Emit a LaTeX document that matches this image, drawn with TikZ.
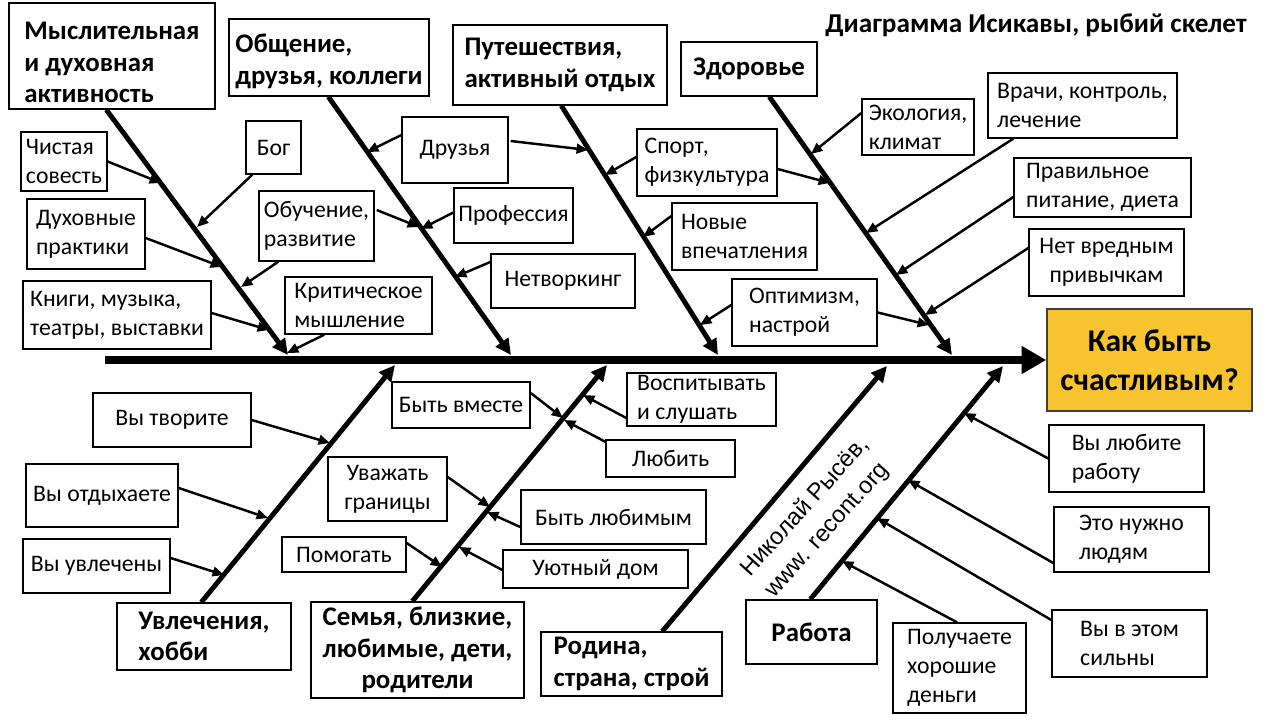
\documentclass[tikz,border=0pt]{standalone}
\usepackage{fontspec}
\setmainfont{Carlito}
\newfontfamily\wmfont{Liberation Sans}
\usetikzlibrary{arrows.meta,calc}
\definecolor{gold}{RGB}{247,196,48}
\newcommand\pbox[7]{\node[#6,minimum width={(#4-#2)*0.02cm},minimum height={(#5-#3)*0.02cm}] (#1) at ({(#2+#4)/2},{(#3+#5)/2}) {#7};}
\newcommand\lowertext[2]{\raisebox{#1}[\height][\depth]{\begin{tabular}{@{}l@{}}#2\end{tabular}}}
\begin{document}
\begin{tikzpicture}[x=0.02cm,y=-0.02cm,
  box/.style={draw,line width=0.8pt,inner sep=1pt,align=left,font=\fontsize{13.5}{16.5}\selectfont},
  head/.style={box,font=\fontsize{15.3}{18}\selectfont\bfseries},
  subarrow/.style={line width=1.4pt,-{Triangle[length=6.5pt,width=5.5pt]}},
  spine/.style={line width=2.8pt,-{Triangle[length=9pt,width=8.5pt]}},
  mainline/.style={line width=5pt,-{Triangle[length=14pt,width=15pt]}}]
\useasboundingbox (0,0) rectangle (1280,720);

% title
\node[font=\fontsize{15.5}{18}\selectfont\bfseries] (title) at (1036,25) {Диаграмма Исикавы, рыбий скелет};

% heads
\pbox{h1}{9}{3}{215}{109}{head}{\lowertext{-5pt}{Мыслительная\\и духовная\\активность}}
\pbox{h2}{229}{19}{429}{96}{head}{\lowertext{-2.5pt}{Общение,\\друзья, коллеги}}
\pbox{h3}{453}{25}{667}{105}{head}{Путешествия,\\активный отдых}
\pbox{h4}{681}{42}{817}{96}{head}{Здоровье}
\pbox{h5}{117}{603}{291}{670}{head}{Увлечения,\\хобби}
\pbox{h6}{311}{602}{524}{698}{head,align=center}{Семья, близкие,\\любимые, дети,\\родители}
\pbox{h7}{541}{632}{722}{696}{head}{Родина,\\страна, строй}
\pbox{h8}{746}{600}{877}{664}{head}{Работа}
\pbox{eff}{1047}{309}{1252}{411}{box,fill=gold,draw=black!75,align=center,font=\fontsize{18}{22}\selectfont\bfseries}{Как быть\\счастливым?}

% top sub boxes
\pbox{a1}{21}{132}{107}{191}{box}{Чистая\\совесть}
\pbox{a2}{246}{121}{301}{174}{box}{Бог}
\pbox{a3}{27}{199}{145}{269}{box}{Духовные\\практики}
\pbox{a4}{259}{191}{374}{261}{box}{Обучение,\\развитие}
\pbox{a5}{23}{281}{211}{349}{box}{Книги, музыка,\\театры, выставки}
\pbox{a6}{285}{277}{432}{334}{box}{Критическое\\мышление}
\pbox{a7}{402}{117}{508}{183}{box}{Друзья}
\pbox{a8}{454}{188}{573}{243}{box}{Профессия}
\pbox{a9}{491}{254}{635}{308}{box}{Нетворкинг}
\pbox{a10}{637}{129}{777}{196}{box}{Спорт,\\физкультура}
\pbox{a11}{672}{203}{817}{270}{box}{Новые\\впечатления}
\pbox{a12}{732}{279}{877}{346}{box}{Оптимизм,\\настрой}
\pbox{a13}{862}{99}{974}{155}{box}{Экология,\\климат}
\pbox{a14}{988}{73}{1177}{138}{box}{Врачи, контроль,\\лечение}
\pbox{a15}{1014}{158}{1191}{217}{box}{Правильное\\питание, диета}
\pbox{a16}{1029}{229}{1184}{296}{box,align=center}{Нет вредным\\привычкам}

% bottom sub boxes
\pbox{b1}{93}{393}{251}{447}{box}{Вы творите}
\pbox{b2}{26}{464}{178}{527}{box}{Вы отдыхаете}
\pbox{b3}{23}{539}{170}{593}{box}{Вы увлечены}
\pbox{b4}{392}{382}{530}{428}{box}{Быть вместе}
\pbox{b5}{627}{373}{776}{426}{box}{Воспитывать\\и слушать}
\pbox{b6}{606}{440}{735}{477}{box}{Любить}
\pbox{b7}{328}{457}{447}{521}{box,align=center}{Уважать\\границы}
\pbox{b8}{521}{490}{706}{544}{box}{Быть любимым}
\pbox{b9}{282}{537}{406}{572}{box}{Помогать}
\pbox{b10}{503}{550}{688}{588}{box}{Уютный дом}
\pbox{b11}{1049}{425}{1204}{492}{box}{Вы любите\\работу}
\pbox{b12}{1054}{507}{1209}{572}{box}{Это нужно\\людям}
\pbox{b13}{1052}{610}{1207}{677}{box}{Вы в этом\\сильны}
\pbox{b14}{893}{623}{1026}{713}{box}{Получаете\\хорошие\\деньги}

% watermark
\node[rotate=48,align=left,font=\wmfont\fontsize{13.5}{18}\selectfont] (wm) at (817,518) {Николай Рысёв,\\www. recont.org};

% coordinates on main line
\coordinate (mstart) at (105,360);
\coordinate (t1) at (288,355);
\coordinate (t2) at (511,355);
\coordinate (t3) at (718,355);
\coordinate (t4) at (952,355);
\coordinate (u5) at (395,365);
\coordinate (u6) at (607,365);
\coordinate (u7) at (887,366);
\coordinate (u8) at (1003,366);

% coordinates on spines
\coordinate (c1) at (161,183);
\coordinate (c2) at (197,227);
\coordinate (c3) at (222,267);
\coordinate (c4) at (241,287);
\coordinate (c4b) at (419,227);
\coordinate (c5) at (269,330);
\coordinate (c6) at (287,353);
\coordinate (c7) at (367,152);
\coordinate (c7b) at (588,150);
\coordinate (c8) at (421,229);
\coordinate (c9) at (455,277);
\coordinate (c10) at (605,175);
\coordinate (c10b) at (830,183);
\coordinate (c11) at (643,237);
\coordinate (c12) at (700,325);
\coordinate (c12b) at (929,325);
\coordinate (c13) at (811,154);
\coordinate (c14) at (866,233);
\coordinate (c15) at (896,275);
\coordinate (c16) at (925,315);
\coordinate (d1) at (330,443);
\coordinate (d2) at (268,518);
\coordinate (d3) at (224,575);
\coordinate (d4) at (563,418);
\coordinate (d5) at (583,395);
\coordinate (d6) at (564,420);
\coordinate (d7) at (490,507);
\coordinate (d8) at (487,512);
\coordinate (d9) at (442,567);
\coordinate (d10) at (459,547);
\coordinate (d11) at (964,413);
\coordinate (d12) at (908,480);
\coordinate (d13) at (877,518);
\coordinate (d14) at (842,561);

% main line
\draw[mainline] (mstart) -- (eff.west);

% spines
\draw[spine] ($(h1.south west)+(98,0)$) -- (t1);
\draw[spine] ($(h2.south west)+(100,0)$) -- (t2);
\draw[spine] ($(h3.south west)+(109,0)$) -- (t3);
\draw[spine] ($(h4.south west)+(89,0)$) -- (t4);
\draw[spine] ($(h5.north west)+(85,0)$) -- (u5);
\draw[spine] ($(h6.north west)+(102,0)$) -- (u6);
\draw[spine] ($(h7.north west)+(122,0)$) -- (u7);
\draw[spine] ($(h8.north west)+(65,0)$) -- (u8);

% sub arrows top
\draw[subarrow] (a1.east) -- (c1);
\draw[subarrow] ($(a2.south west)+(7,0)$) -- (c2);
\draw[subarrow] ($(a3.east)+(0,4)$) -- (c3);
\draw[subarrow] ($(a4.south west)+(20,0)$) -- (c4);
\draw[subarrow] ($(a4.east)+(2,-16)$) -- (c4b);
\draw[subarrow] ($(a5.east)+(0,-2)$) -- (c5);
\draw[subarrow] ($(a6.south west)+(40,0)$) -- (c6);
\draw[subarrow] ($(a7.west)+(0,-15)$) -- (c7);
\draw[subarrow] ($(a7.east)+(2,-9)$) -- (c7b);
\draw[subarrow] ($(a8.west)+(0,-3)$) -- (c8);
\draw[subarrow] ($(a9.west)+(0,-19)$) -- (c9);
\draw[subarrow] ($(a10.west)+(0,-5.5)$) -- (c10);
\draw[subarrow] ($(a10.east)+(0,6.5)$) -- (c10b);
\draw[subarrow] ($(a11.west)+(0,-20.5)$) -- (c11);
\draw[subarrow] ($(a12.west)+(0,-7.5)$) -- (c12);
\draw[subarrow] (a12.east) -- (c12b);
\draw[subarrow] ($(a13.west)+(0,-14)$) -- (c13);
\draw[subarrow] ($(a14.south west)+(26,0)$) -- (c14);
\draw[subarrow] ($(a15.west)+(0,9.5)$) -- (c15);
\draw[subarrow] ($(a16.west)+(0,-14.5)$) -- (c16);

% sub arrows bottom
\draw[subarrow] (b1.east) -- (d1);
\draw[subarrow] ($(b2.east)+(0,-7.5)$) -- (d2);
\draw[subarrow] ($(b3.east)+(0,-8)$) -- (d3);
\draw[subarrow] ($(b4.east)+(0,-12)$) -- (d4);
\draw[subarrow] ($(b5.west)+(0,18.5)$) -- (d5);
\draw[subarrow] ($(b6.north west)+(1,3)$) -- (d6);
\draw[subarrow] ($(b7.east)+(0,-12)$) -- (d7);
\draw[subarrow] ($(b8.west)+(0,10)$) -- (d8);
\draw[subarrow] ($(b9.east)+(0,-11.5)$) -- (d9);
\draw[subarrow] ($(b10.west)+(0,1)$) -- (d10);
\draw[subarrow] (b11.west) -- (d11);
\draw[subarrow] ($(b12.west)+(0,23.5)$) -- (d12);
\draw[subarrow] ($(b13.west)+(0,-23.5)$) -- (d13);
\draw[subarrow] ($(b14.north)+(-2.5,0)$) -- (d14);
\end{tikzpicture}
\end{document}
